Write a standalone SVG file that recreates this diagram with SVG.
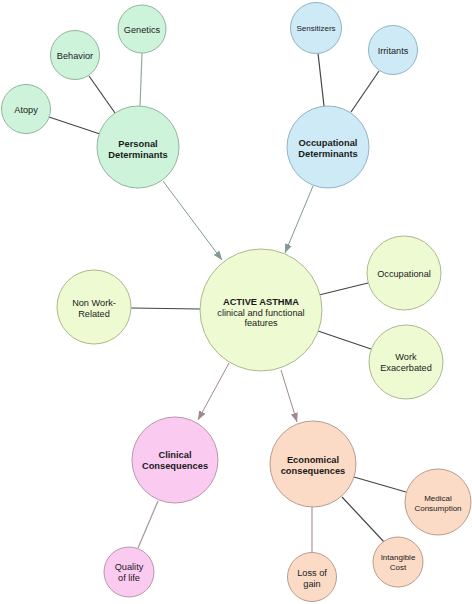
<svg xmlns="http://www.w3.org/2000/svg" width="472" height="604" viewBox="0 0 472 604">
<style>
text{font-family:"Liberation Sans",Arial,sans-serif;fill:#1a1a1a;text-anchor:middle;font-size:9.2px}
.b{font-weight:bold;font-size:9.3px}
.s{font-size:8px}
.g{fill:#cdf3da;stroke:#93b59d;stroke-width:1}
.bl{fill:#cdeaf6;stroke:#93b3c4;stroke-width:1}
.y{fill:#eefad2;stroke:#aab98e;stroke-width:1}
.p{fill:#fbcaf0;stroke:#b797aa;stroke-width:1}
.o{fill:#fbdac6;stroke:#ba9c8c;stroke-width:1}
.ld{stroke:#444;stroke-width:1.2;fill:none}
.lg{stroke:#9aaa98;stroke-width:1.2;fill:none}
.lp{stroke:#ab949c;stroke-width:1.2;fill:none}
.ag{stroke:#7f9c90;stroke-width:1;fill:none}
.ap{stroke:#a08890;stroke-width:1;fill:none}
</style>
<defs>
<marker id="mg" viewBox="0 0 10 10" refX="10" refY="5" markerWidth="9" markerHeight="9" markerUnits="userSpaceOnUse" orient="auto"><path d="M0,1 L10,5 L0,9 z" fill="#7f9c90"/></marker>
<marker id="mp" viewBox="0 0 10 10" refX="10" refY="5" markerWidth="9" markerHeight="9" markerUnits="userSpaceOnUse" orient="auto"><path d="M0,1 L10,5 L0,9 z" fill="#a08890"/></marker>
</defs>
<g id="connectors">
<line class="lg" x1="142" y1="53" x2="140" y2="106"/>
<line class="ld" x1="89" y1="76" x2="115" y2="113"/>
<line class="ld" x1="49" y1="117" x2="100" y2="134"/>
<line class="ld" x1="318" y1="53" x2="324" y2="106"/>
<line class="ld" x1="379" y1="71" x2="351" y2="112"/>
<line class="ag" x1="163" y1="181" x2="222" y2="260" marker-end="url(#mg)"/>
<line class="ag" x1="313" y1="186" x2="285" y2="253" marker-end="url(#mg)"/>
<line class="ld" x1="131" y1="308" x2="200" y2="309"/>
<line class="ld" x1="319" y1="295" x2="368" y2="283"/>
<line class="ld" x1="318" y1="331" x2="371" y2="349"/>
<line class="ap" x1="229" y1="363" x2="198" y2="420" marker-end="url(#mp)"/>
<line class="ap" x1="281" y1="370" x2="297" y2="422" marker-end="url(#mp)"/>
<line class="lp" x1="158" y1="501" x2="138" y2="548"/>
<line class="ld" x1="354" y1="477" x2="406" y2="492"/>
<line class="ld" x1="342" y1="497" x2="385" y2="543"/>
<line class="lp" x1="312" y1="507" x2="312" y2="553"/>
</g>
<g id="genetics"><circle class="g" cx="142" cy="29" r="24"/><text x="142" y="33">Genetics</text></g>
<g id="behavior"><circle class="g" cx="75" cy="55" r="24.5"/><text x="75" y="59">Behavior</text></g>
<g id="atopy"><circle class="g" cx="26" cy="109" r="24.5"/><text x="26" y="113">Atopy</text></g>
<g id="personal"><circle class="g" cx="138" cy="147" r="41"/><text class="b" x="138" y="146.5">Personal</text><text class="b" x="138" y="157.5">Determinants</text></g>
<g id="sensitizers"><circle class="bl" cx="316" cy="28" r="25.5"/><text class="s" x="316" y="31">Sensitizers</text></g>
<g id="irritants"><circle class="bl" cx="393" cy="50" r="24.5"/><text x="393" y="54">Irritants</text></g>
<g id="occdet"><circle class="bl" cx="328" cy="147" r="41"/><text class="b" x="328" y="145.5">Occupational</text><text class="b" x="328" y="157">Determinants</text></g>
<g id="asthma"><circle class="y" cx="261" cy="310" r="61"/><text class="b" x="261" y="304.5">ACTIVE ASTHMA</text><text x="261" y="315.5">clinical and functional</text><text x="261" y="326">features</text></g>
<g id="nonwork"><circle class="y" cx="94" cy="307" r="37"/><text x="94" y="305.5">Non Work-</text><text x="94" y="316.5">Related</text></g>
<g id="occupational"><circle class="y" cx="404" cy="273" r="37"/><text x="404" y="276.5">Occupational</text></g>
<g id="workex"><circle class="y" cx="406" cy="362" r="37"/><text x="406" y="359.5">Work</text><text x="406" y="370.5">Exacerbated</text></g>
<g id="clinical"><circle class="p" cx="175" cy="460" r="43"/><text class="b" x="175" y="457.5">Clinical</text><text class="b" x="175" y="468.5">Consequences</text></g>
<g id="quality"><circle class="p" cx="129" cy="572" r="25"/><text x="129" y="570">Quality</text><text x="129" y="581">of life</text></g>
<g id="economical"><circle class="o" cx="313" cy="464" r="43"/><text class="b" x="313" y="463">Economical</text><text class="b" x="313" y="474">consequences</text></g>
<g id="medical"><circle class="o" cx="438" cy="502" r="33"/><text class="s" x="438" y="501">Medical</text><text class="s" x="438" y="511">Consumption</text></g>
<g id="intangible"><circle class="o" cx="398" cy="562" r="25"/><text class="s" x="398" y="560">Intangible</text><text class="s" x="398" y="570">Cost</text></g>
<g id="loss"><circle class="o" cx="312" cy="577" r="24.5"/><text x="312" y="576">Loss of</text><text x="312" y="587">gain</text></g>
</svg>
